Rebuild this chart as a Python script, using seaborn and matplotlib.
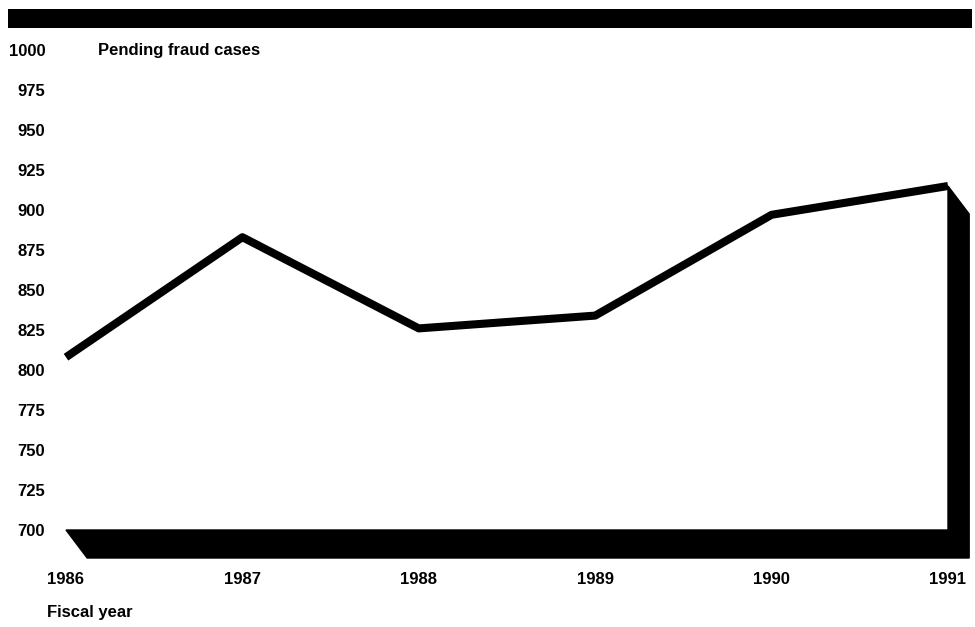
import matplotlib
matplotlib.use("Agg")
import matplotlib.pyplot as plt
import seaborn as sns
import pandas as pd
from matplotlib.patches import Polygon, Rectangle

# Data
years = [1986, 1987, 1988, 1989, 1990, 1991]
pending_cases = [808, 883, 826, 834, 897, 915]
y_ticks = list(range(700, 1001, 25))

df = pd.DataFrame({'year': years, 'cases': pending_cases})

sns.set_style('white')
plt.rcParams['font.family'] = ['Liberation Sans', 'DejaVu Sans']
plt.rcParams['font.weight'] = 'bold'
plt.rcParams['text.color'] = 'black'
plt.rcParams['xtick.color'] = 'black'
plt.rcParams['ytick.color'] = 'black'

W, H = 975, 627
fig = plt.figure(figsize=(W / 100, H / 100), dpi=100)
ax = fig.add_axes([66 / W, (H - 530) / H, (948 - 66) / W, 480 / H])

# 3D-looking base and right wall
dx, dy = 0.12, 17.5
x0, x1 = years[0], years[-1]
base = Polygon([(x0, 700), (x1, 700), (x1, pending_cases[-1]),
                (x1 + dx, pending_cases[-1] - dy), (x1 + dx, 700 - dy),
                (x0 + dx, 700 - dy)],
               closed=True, facecolor='black', edgecolor='black', clip_on=False, zorder=1)
ax.add_patch(base)

sns.lineplot(data=df, x='year', y='cases', ax=ax, color='black', linewidth=5.8,
             solid_joinstyle='round', solid_capstyle='butt', zorder=3, clip_on=False)

ax.set_xlim(x0, x1)
ax.set_ylim(700, 1000)
ax.set_xticks(years)
ax.set_xticklabels([str(y) for y in years], fontsize=12, fontweight='bold', color='black')
ax.set_yticks(y_ticks)
ax.set_yticklabels([str(v) for v in y_ticks], fontsize=12, fontweight='bold', color='black')
ax.tick_params(axis='y', length=0, pad=15)
ax.tick_params(axis='x', length=0, pad=30)
ax.set_xlabel('')
ax.set_ylabel('')
sns.despine(ax=ax, left=True, bottom=True)
ax.patch.set_alpha(0)

ax.text(x0 + 0.18, 1000, 'Pending fraud cases', fontsize=12, fontweight='bold',
        ha='left', va='center', color='black')

# top black band
fig.patches.append(Rectangle((8 / W, 1 - 28 / H), (972 - 8) / W, 19 / H,
                             transform=fig.transFigure, facecolor='black', edgecolor='none'))

fig.text(47 / W, 1 - 612 / H, 'Fiscal year', fontsize=12, fontweight='bold',
         ha='left', va='center', color='black')

fig.savefig('out.png', dpi=100)
